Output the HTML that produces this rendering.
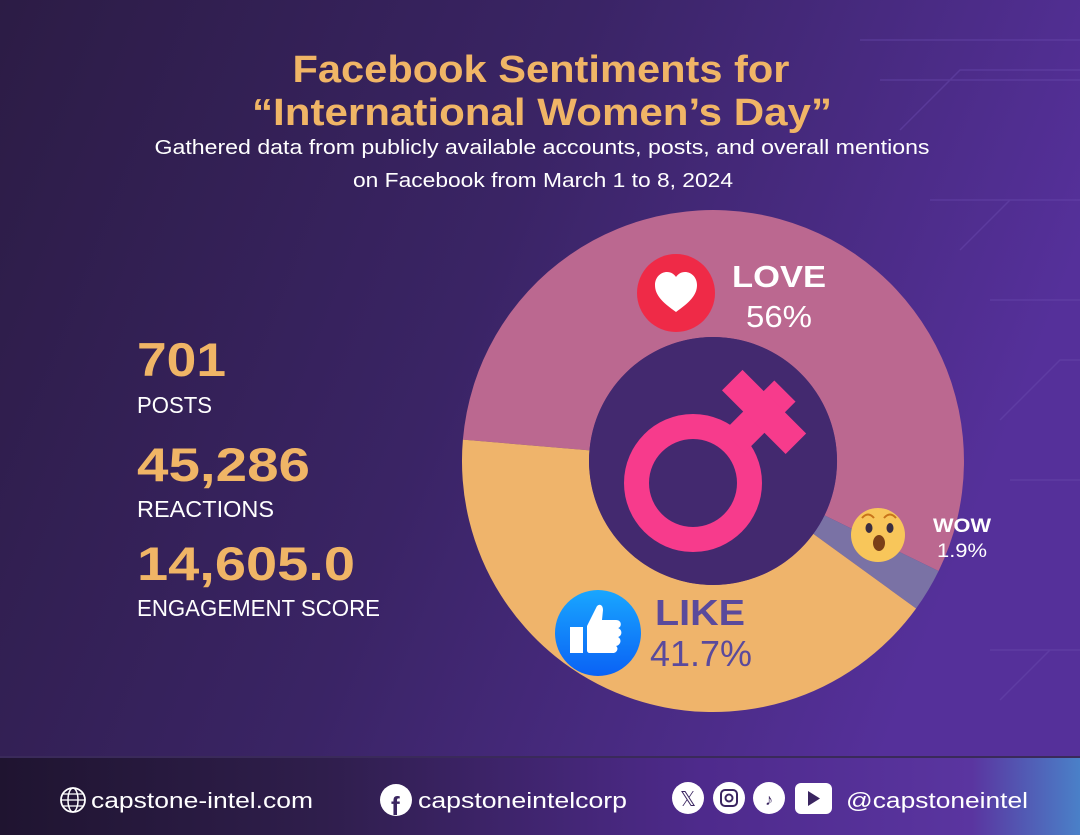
<!DOCTYPE html>
<html><head><meta charset="utf-8"><style>
html,body{margin:0;padding:0;width:1080px;height:835px;overflow:hidden;background:#33204f}
svg{display:block}
</style></head><body>
<svg width="1080" height="835" viewBox="0 0 1080 835" xmlns="http://www.w3.org/2000/svg" font-family="Liberation Sans, DejaVu Sans, sans-serif">
<defs>
<linearGradient id="bg" x1="0" y1="0" x2="1" y2="0.3">
<stop offset="0" stop-color="#2c1c45"/><stop offset="0.5" stop-color="#3a2465"/><stop offset="1" stop-color="#55309a"/>
</linearGradient>
<linearGradient id="ft" x1="0" y1="0" x2="1" y2="0">
<stop offset="0" stop-color="#1f1430"/><stop offset="0.3" stop-color="#2f1e4c"/><stop offset="0.65" stop-color="#4e2a8c"/><stop offset="0.9" stop-color="#5a35a0"/><stop offset="1" stop-color="#4a80c8"/>
</linearGradient>
<linearGradient id="lk" x1="0" y1="0" x2="0" y2="1">
<stop offset="0" stop-color="#19a6ff"/><stop offset="1" stop-color="#0a62f5"/>
</linearGradient>
</defs>
<rect width="1080" height="835" fill="url(#bg)"/>
<g stroke="#6a4bb0" stroke-width="1.5" fill="none" opacity="0.45">
<path d="M860 40 H1080 M880 80 H1080 M900 130 L960 70 H1080 M930 200 H1080 M960 250 L1010 200 H1080 M990 300 H1080 M1000 420 L1060 360 H1080 M1010 480 H1080 M990 650 H1080 M1000 700 L1050 650"/>
</g>
<text x="541" y="82" text-anchor="middle" font-size="38" font-weight="bold" fill="#f0b566" textLength="497" lengthAdjust="spacingAndGlyphs">Facebook Sentiments for</text>
<text x="542" y="125" text-anchor="middle" font-size="38" font-weight="bold" fill="#f0b566" textLength="580" lengthAdjust="spacingAndGlyphs">“International Women’s Day”</text>
<text x="542" y="154" text-anchor="middle" font-size="20" fill="#fff" textLength="775" lengthAdjust="spacingAndGlyphs">Gathered data from publicly available accounts, posts, and overall mentions</text>
<text x="543" y="187" text-anchor="middle" font-size="20" fill="#fff" textLength="380" lengthAdjust="spacingAndGlyphs">on Facebook from March 1 to 8, 2024</text>

<g fill="#f0b566" font-weight="bold" font-size="47">
<text x="137" y="376" textLength="89" lengthAdjust="spacingAndGlyphs">701</text>
<text x="137" y="481" textLength="173" lengthAdjust="spacingAndGlyphs">45,286</text>
<text x="137" y="580" textLength="218" lengthAdjust="spacingAndGlyphs">14,605.0</text>
</g>
<g fill="#fff" font-size="23">
<text x="137" y="413" textLength="75" lengthAdjust="spacingAndGlyphs">POSTS</text>
<text x="137" y="517" textLength="137" lengthAdjust="spacingAndGlyphs">REACTIONS</text>
<text x="137" y="616" textLength="243" lengthAdjust="spacingAndGlyphs">ENGAGEMENT SCORE</text>
</g>

<path d="M462.9 439.6 A251 251 0 1 1 938.6 571.0 L824.5 515.4 A124 124 0 1 0 589.5 450.4 Z" fill="#bb6890"/>
<path d="M938.6 571.0 A251 251 0 0 1 916.1 608.5 L813.3 533.9 A124 124 0 0 0 824.5 515.4 Z" fill="#7a72a5"/>
<path d="M916.1 608.5 A251 251 0 0 1 462.9 439.6 L589.5 450.4 A124 124 0 0 0 813.3 533.9 Z" fill="#efb46b"/>
<circle cx="713" cy="461" r="124" fill="#43296f"/>

<g transform="translate(693,483) rotate(45)" fill="#f73b8c">
<circle r="56.5" fill="none" stroke="#f73b8c" stroke-width="25"/>
<rect x="-15" y="-130" width="30" height="72"/>
<rect x="-45" y="-115" width="90" height="29"/>
</g>

<circle cx="676" cy="293" r="39" fill="#ef2a47"/>
<path d="M676 312 C662 302 655 295 655 285 C655 277 661 272 667 272 C671 272 674 274 676 277 C678 274 681 272 685 272 C691 272 697 277 697 285 C697 295 690 302 676 312 Z" fill="#fff"/>
<text x="732" y="287" font-size="31" font-weight="bold" fill="#fff" textLength="94" lengthAdjust="spacingAndGlyphs">LOVE</text>
<text x="746" y="327" font-size="31" fill="#fff" textLength="66" lengthAdjust="spacingAndGlyphs">56%</text>

<circle cx="598" cy="633" r="43" fill="url(#lk)"/>
<rect x="570" y="627" width="13" height="26" fill="#fff"/>
<path d="M587 626 L596 608 C598 603 603 604 603 610 L602 620 L616 620 C622 620 622 627 618 628 C623 630 622 636 618 637 C622 639 621 645 616 646 C619 648 617 653 613 653 L590 653 C588 653 587 652 587 650 Z" fill="#fff"/>
<text x="655" y="625" font-size="36" font-weight="bold" fill="#5a4a9c" textLength="90" lengthAdjust="spacingAndGlyphs">LIKE</text>
<text x="650" y="666" font-size="36" fill="#5a4a9c" textLength="102" lengthAdjust="spacingAndGlyphs">41.7%</text>

<circle cx="878" cy="535" r="27" fill="#f8c65a"/>
<ellipse cx="869" cy="528" rx="3.5" ry="5" fill="#3a2e40"/>
<ellipse cx="890" cy="528" rx="3.5" ry="5" fill="#3a2e40"/>
<path d="M862 518 Q868 511 874 518 M884 518 Q890 511 896 518" stroke="#c8741a" stroke-width="2" fill="none"/>
<ellipse cx="879" cy="543" rx="6" ry="8" fill="#7a3f18"/>
<text x="933" y="532" font-size="19" font-weight="bold" fill="#fff" textLength="58" lengthAdjust="spacingAndGlyphs">WOW</text>
<text x="937" y="557" font-size="19" fill="#fff" textLength="50" lengthAdjust="spacingAndGlyphs">1.9%</text>

<rect x="0" y="758" width="1080" height="77" fill="url(#ft)"/>
<rect x="0" y="756" width="1080" height="2" fill="#3a2a5a"/>
<circle cx="73" cy="800" r="12" fill="none" stroke="#fff" stroke-width="1.8"/>
<ellipse cx="73" cy="800" rx="5" ry="12" fill="none" stroke="#fff" stroke-width="1.5"/>
<path d="M61 800 H85 M63 794 H83 M63 806 H83" stroke="#fff" stroke-width="1.3"/>
<text x="91" y="808" font-size="22" fill="#fff" textLength="222" lengthAdjust="spacingAndGlyphs">capstone-intel.com</text>
<circle cx="396" cy="800" r="16" fill="#fff"/>
<text x="391" y="815" font-size="26" font-weight="bold" fill="#3a2560">f</text>
<text x="418" y="808" font-size="22" fill="#fff" textLength="209" lengthAdjust="spacingAndGlyphs">capstoneintelcorp</text>
<circle cx="688" cy="798" r="16" fill="#fff"/>
<text x="688" y="806" font-size="20" text-anchor="middle" fill="#3a2560">𝕏</text>
<circle cx="729" cy="798" r="16" fill="#fff"/>
<rect x="721" y="790" width="16" height="16" rx="4" fill="none" stroke="#3a2560" stroke-width="2"/>
<circle cx="729" cy="798" r="3.5" fill="none" stroke="#3a2560" stroke-width="2"/>
<circle cx="769" cy="798" r="16" fill="#fff"/>
<text x="769" y="805" font-size="16" text-anchor="middle" font-weight="bold" fill="#3a2560">♪</text>
<rect x="795" y="783" width="37" height="31" rx="6" fill="#fff"/>
<path d="M808 791 L820 798.5 L808 806 Z" fill="#3a2560"/>
<text x="846" y="808" font-size="22" fill="#fff" textLength="182" lengthAdjust="spacingAndGlyphs">@capstoneintel</text>
</svg>
</body></html>
